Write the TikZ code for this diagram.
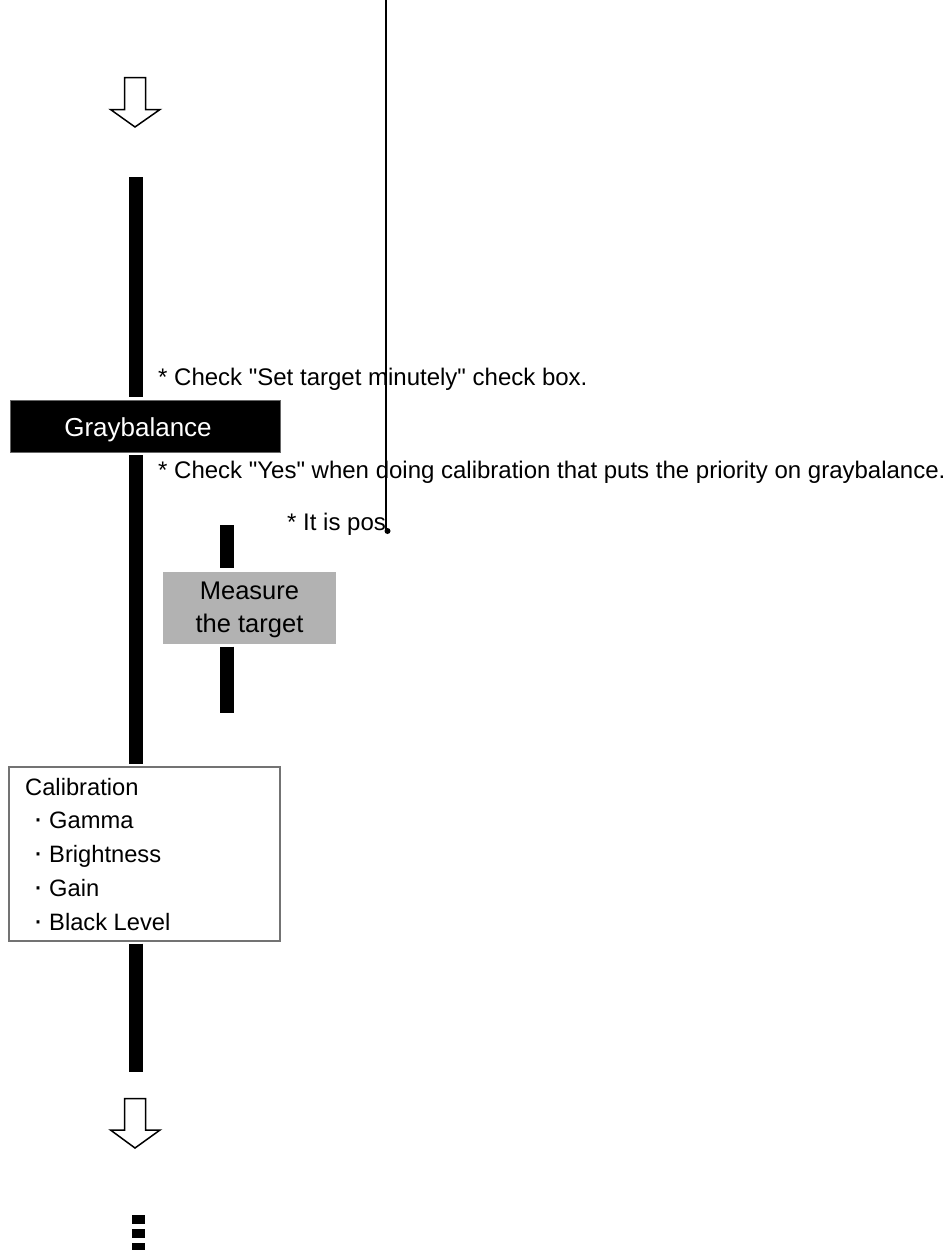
\documentclass[tikz,border=0pt]{standalone}
\usepackage{fontspec}
\setmainfont{Liberation Sans}[Ligatures=TeXOff]
\newcommand\itemdot{\makebox[20pt][l]{\hspace{4pt}\fontsize{30}{30}\selectfont·}}
\begin{document}
\begin{tikzpicture}[x=1pt,y=-1pt,
  bar/.style={line width=14pt,black},
  note/.style={anchor=base west,inner sep=0pt,font=\fontsize{24}{28}\selectfont},
  hollowarrow/.style={draw=black,line width=1.5pt,fill=white,line join=miter}]
\useasboundingbox (0,0) rectangle (948,1250);

% step boxes
\node[fill=black,draw=black!60,minimum width=270pt,minimum height=52pt,inner sep=0pt] (gb) at (145,426) {};
\node[text=white,font=\fontsize{26}{30}\selectfont,inner sep=0pt,anchor=base] (gbt) at (138,436) {Graybalance};
\node[fill=black!30,minimum width=173pt,minimum height=72pt,inner sep=0pt] (meas) at (249.5,607.5) {};
\node[align=center,font=\fontsize{25.5}{33}\selectfont,inner sep=0pt] (meast) at (249.5,609.5) {Measure\\the target};
\node[draw=black!55,line width=1.2pt,fill=white,minimum width=271pt,minimum height=174pt,inner sep=0pt] (cal) at (144.5,854) {};
\begin{scope}[every node/.style={note,font=\fontsize{23.7}{28}\selectfont}]
  \node (c0) at (25,795) {Calibration};
  \node (c1) at (29,828) {\itemdot Gamma};
  \node (c2) at (29,862) {\itemdot Brightness};
  \node (c3) at (29,896) {\itemdot Gain};
  \node (c4) at (29,930) {\itemdot Black Level};
\end{scope}

% flow bars
\coordinate (b1top) at (136,177);
\coordinate (b3bot) at (136,1072);
\draw[bar] (b1top) -- ([yshift=3pt]gb.north -| b1top);
\draw[bar] ([yshift=-3pt]gb.south -| b1top) -- ([yshift=2pt]cal.north -| b1top);
\draw[bar] ([yshift=-2pt]cal.south -| b1top) -- (b3bot);
\coordinate (b2top) at (227,525);
\coordinate (b2bot) at (227,713);
\draw[bar] (b2top) -- ([yshift=3pt]meas.north -| b2top);
\draw[bar] ([yshift=-3pt]meas.south -| b2top) -- (b2bot);

% hollow arrows
\draw[hollowarrow] (124.5,77.5) -- (145.5,77.5) -- (145.5,109.5) -- (160,109.5) -- (135,127)
  -- (110.5,109.5) -- (124.5,109.5) -- cycle;
\draw[hollowarrow] (124.5,1098.5) -- (145.5,1098.5) -- (145.5,1130) -- (160,1130) -- (135,1148)
  -- (110.5,1130) -- (124.5,1130) -- cycle;

% continuation marks
\fill (132,1215) rectangle (145,1224);
\fill (132,1229) rectangle (145,1238);
\fill (132,1243) rectangle (145,1250);

% notes
\node[note] (n1) at (158,385) {* Check "Set target minutely" check box.};
\node[note] (n2) at (158,478) {* Check "Yes" when doing calibration that puts the priority on graybalance.};
\node[note] (n3) at (287,530) {* It is pos};

% thin leader line
\coordinate (lt) at (386,0);
\coordinate (lb) at (386,530);
\draw[line width=1.5pt] (lt) -- (lb);
\fill (lb) ++(1.5,1) circle (3pt);
\end{tikzpicture}
\end{document}
